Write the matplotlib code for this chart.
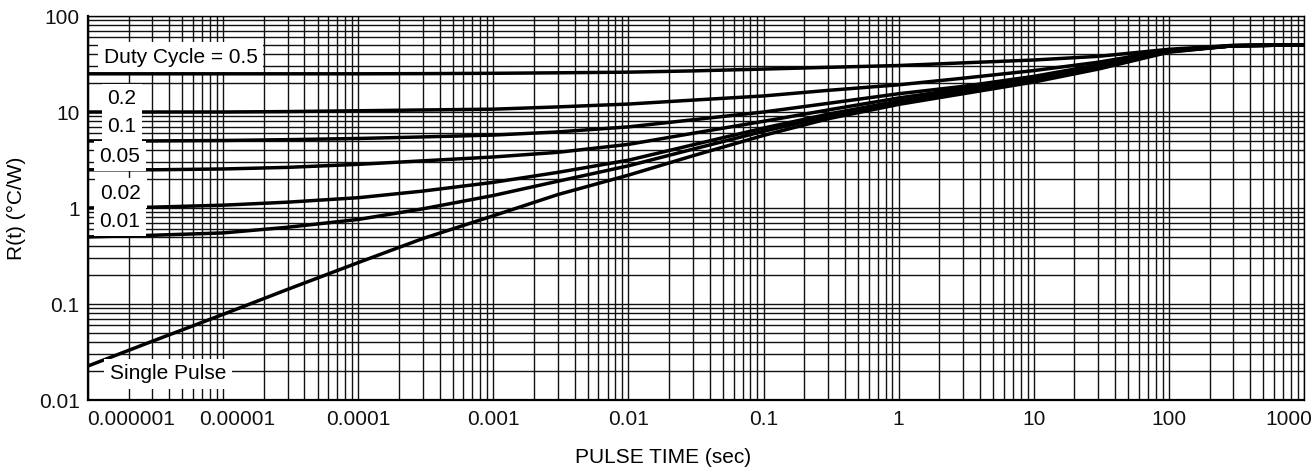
import numpy as np
import matplotlib
matplotlib.use("Agg")
import matplotlib.pyplot as plt
from matplotlib.ticker import LogLocator, NullFormatter
from matplotlib.transforms import ScaledTranslation

plt.rcParams['font.family'] = ['Liberation Sans', 'DejaVu Sans']

# pulse time (sec) and read-off R(t) values (degC/W) for each duty cycle
t_dense = [1e-6, 3e-6, 1e-5, 3e-5, 1e-4, 3e-4, 1e-3, 3e-3, 1e-2, 3e-2,
           0.1, 0.3, 1, 3, 10, 30, 100, 300, 1000]

r_d05 = [25, 25, 25, 25, 25, 25.1, 25.3, 25.6, 26.0, 26.8,
         28.0, 29.2, 30.5, 32.5, 34.8, 38.0, 45.0, 49.5, 50]
r_d02 = [10, 10, 10, 10.1, 10.3, 10.5, 10.7, 11.3, 12.1, 13.3,
         14.7, 16.8, 19.2, 22.5, 27.0, 33.0, 44.0, 49.0, 50]
r_d01 = [5.0, 5.0, 5.05, 5.15, 5.3, 5.5, 5.75, 6.2, 7.0, 8.3,
         10.0, 12.3, 15.5, 18.5, 23.5, 31.0, 43.5, 49.0, 50]
r_d005 = [2.5, 2.5, 2.55, 2.65, 2.85, 3.1, 3.4, 3.8, 4.6, 6.0,
          8.0, 10.5, 14.0, 17.5, 22.5, 30.0, 43.0, 49.0, 50]
r_d002 = [1.0, 1.02, 1.07, 1.15, 1.28, 1.5, 1.85, 2.35, 3.15, 4.55,
          6.8, 9.5, 13.0, 16.5, 21.5, 29.0, 43.0, 49.0, 50]
r_d001 = [0.5, 0.52, 0.55, 0.63, 0.76, 0.98, 1.35, 1.9, 2.75, 4.1,
          6.3, 9.0, 12.5, 16.0, 21.0, 28.5, 42.5, 49.0, 50]
r_single = [0.0226, 0.041, 0.078, 0.142, 0.27, 0.48, 0.83, 1.38, 2.2, 3.5,
            5.7, 8.5, 12.0, 15.5, 20.5, 28.0, 42.0, 49.0, 50]

curves = [r_d05, r_d02, r_d01, r_d005, r_d002, r_d001, r_single]
curve_labels = ["Duty Cycle = 0.5", "0.2", "0.1", "0.05", "0.02", "0.01", "Single Pulse"]

x_ticks = [1e-6, 1e-5, 1e-4, 1e-3, 1e-2, 1e-1, 1, 10, 100, 1000]
x_tick_labels = ["0.000001", "0.00001", "0.0001", "0.001", "0.01", "0.1",
                 "1", "10", "100", "1000"]
y_ticks = [0.01, 0.1, 1, 10, 100]
y_tick_labels = ["0.01", "0.1", "1", "10", "100"]

fig = plt.figure(figsize=(13.15, 4.71), dpi=100)
ax = fig.add_axes([88 / 1315, 1 - 400 / 471, 1216 / 1315, 384 / 471])

ax.set_xscale('log')
ax.set_yscale('log')
ax.set_xlim(1e-6, 1000)
ax.set_ylim(0.01, 100)

for r in curves:
    ax.plot(t_dense, r, color='black', lw=2.5, solid_joinstyle='round', zorder=3)

ax.xaxis.set_minor_locator(LogLocator(base=10, subs=np.arange(2, 10), numticks=100))
ax.yaxis.set_minor_locator(LogLocator(base=10, subs=np.arange(2, 10), numticks=100))
ax.xaxis.set_minor_formatter(NullFormatter())
ax.yaxis.set_minor_formatter(NullFormatter())
ax.set_xticks(x_ticks, x_tick_labels)
ax.set_yticks(y_ticks, y_tick_labels)
ax.grid(which='both', color='#111111', lw=1.0)
ax.set_axisbelow(True)
ax.tick_params(which='both', length=0, labelsize=15, colors='#111111')
ax.tick_params(axis='x', pad=7)
ax.tick_params(axis='y', pad=6)

# nudge end labels as in the original sheet
shifts = {0: 43, 1: 14, 9: -15}
for i, lab in enumerate(ax.get_xticklabels()):
    if i in shifts:
        lab.set_transform(lab.get_transform() + ScaledTranslation(shifts[i] / 100, 0, fig.dpi_scale_trans))

for side in ['left', 'bottom']:
    ax.spines[side].set_linewidth(1.6)
for side in ['top', 'right']:
    ax.spines[side].set_linewidth(1.0)

ax.set_xlabel("PULSE TIME (sec)", fontsize=15)
ax.set_ylabel("R(t) (°C/W)", fontsize=15)
ax.xaxis.set_label_coords(0.473, -0.125)
ax.yaxis.set_label_coords(-0.051, 0.5)

box = dict(facecolor='white', edgecolor='none', pad=4)
label_pos = [(0.013, 0.893, 'left'), (0.028, 0.784, 'center'), (0.028, 0.711, 'center'),
             (0.026, 0.635, 'center'), (0.027, 0.539, 'center'), (0.026, 0.466, 'center'),
             (0.066, 0.068, 'center')]
for text, (px, py, ha) in zip(curve_labels, label_pos):
    ax.text(px, py, text, transform=ax.transAxes, ha=ha, va='center',
            fontsize=15, bbox=box, zorder=4)

fig.savefig("out.png", dpi=100)
